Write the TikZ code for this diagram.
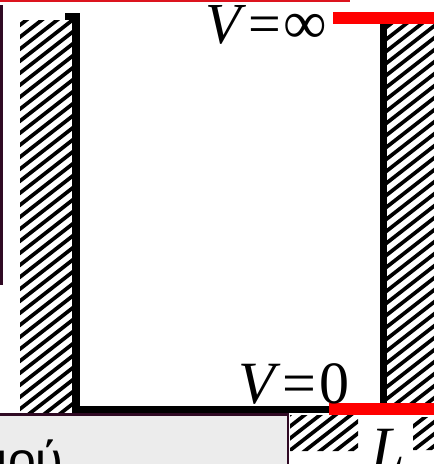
\documentclass[tikz,border=0pt]{standalone}
\usepackage{fontspec}
\setmainfont{Liberation Serif}
\newfontfamily\grsans{Liberation Sans}
\definecolor{aubergine}{RGB}{48,10,36}
\definecolor{boxgray}{RGB}{236,236,236}
\definecolor{thinred}{RGB}{220,20,30}
\begin{document}
\begin{tikzpicture}[x=1pt,y=-1pt,
  lbl/.style={inner sep=0pt,outer sep=0pt,anchor=base west},
  hatchline/.style={line width=3.7pt,black},
  wall/.style={fill=black},
  redbar/.style={fill=red}]
\useasboundingbox (0,0) rectangle (434,464);
% hatching
\begin{scope}
\clip (20,20) rectangle (72,413) (387,24) rectangle (434,403)
      (290,415) rectangle (358,451) (413,417) rectangle (434,450);
\foreach \k in {-40,...,80}{
  \pgfmathsetmacro\cc{220.6+12*\k}
  \draw[hatchline] (-10,{\cc+7.8}) -- (450,{\cc-351});
}
\end{scope}
% walls of the well
\fill[wall] (65,13) rectangle (80,20);
\fill[wall] (72,13) rectangle (80,413);
\fill[wall] (72,406) rectangle (330,413);
\fill[wall] (380,24) rectangle (387,405);
% red bars
\fill[redbar] (333,12) rectangle (434,24);
\fill[redbar] (329,403) rectangle (434,415);
% slide fragments
\fill[thinred] (0,0) rectangle (350,1.7);
\fill[aubergine] (0,5) rectangle (2.7,285);
\filldraw[fill=boxgray,draw=aubergine,line width=2.7pt] (-10,414.7) rectangle (288,490);
\node[lbl,font=\grsans\fontsize{50}{50}\selectfont] (word) at (-3,477) {ιού};
% labels
\node[lbl,font=\fontsize{58}{58}\selectfont] (vinf) at (205,43.5)
  {\textit{V}\hspace{2pt}=\hspace{3pt}{\fontsize{61}{61}\selectfont ∞}};
\node[lbl,font=\fontsize{60}{60}\selectfont] (vzero) at (238,403)
  {\textit{V}\hspace{2pt}=\hspace{3pt}0};
\node[lbl,font=\fontsize{60}{60}\selectfont] (ell) at (371,468) {\textit{L}};
\end{tikzpicture}
\end{document}
